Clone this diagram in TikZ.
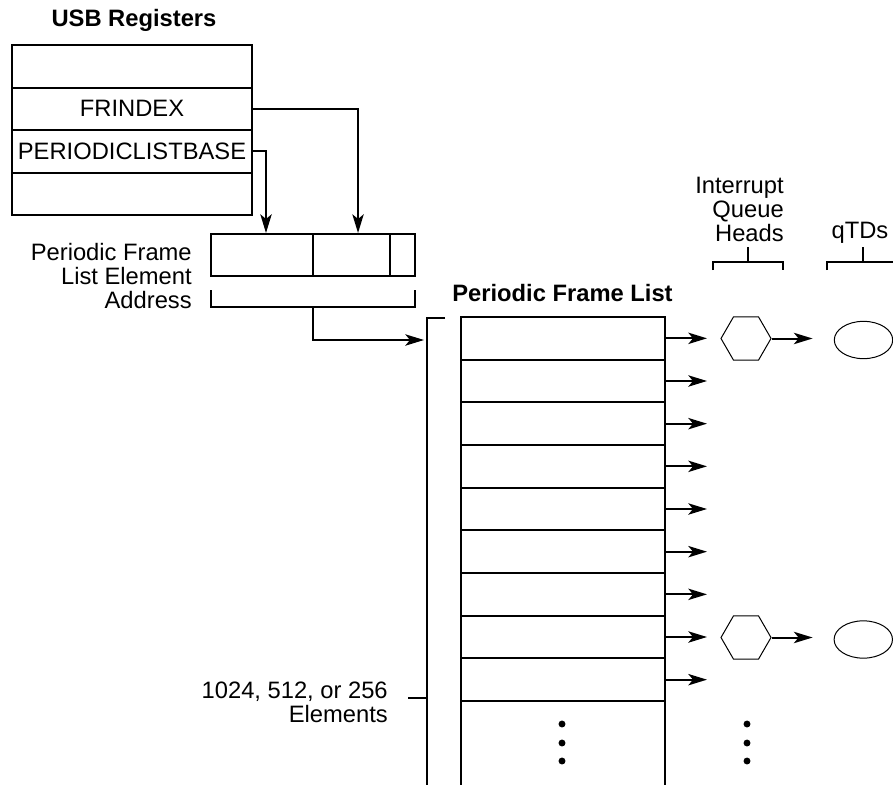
\documentclass[tikz,border=0pt]{standalone}
\usepackage{fontspec}
\setmainfont{Liberation Sans}
\usetikzlibrary{shapes.geometric,arrows.meta}
\begin{document}
\begin{tikzpicture}[x=0.75pt,y=-0.75pt,
  lbl/.style={font=\fontsize{17.8pt}{18pt}\selectfont,inner sep=0pt},
  boldlbl/.style={font=\fontsize{17.8pt}{18pt}\selectfont\bfseries,inner sep=0pt},
  heavy/.style={line width=1.5pt},
  regrow/.style={draw,line width=1.5pt,minimum width=180pt,minimum height=31.875pt,inner sep=0pt,font=\fontsize{17.8pt}{18pt}\selectfont},
  cell/.style={draw,line width=1.5pt,minimum height=31.5pt,inner sep=0pt},
  listrow/.style={draw,line width=1.5pt,minimum width=153pt,minimum height=32pt,inner sep=0pt},
  hexa/.style={draw,regular polygon,regular polygon sides=6,line width=0.75pt,minimum size=37.5pt,inner sep=0pt},
  qtd/.style={draw,ellipse,line width=0.75pt,minimum width=43.8pt,minimum height=28pt,inner sep=0pt},
  conn/.style={line width=1.5pt,-{Stealth[length=14pt,width=8.5pt,inset=3.5pt]}}
]
\useasboundingbox (0,0) rectangle (893,785);

% USB registers
\node[boldlbl] (title) at (134,20) {USB Registers};
\node[regrow] (reg1) at (132,66.25) {};
\node[regrow] (reg2) at (132,108.75) {FRINDEX};
\node[regrow] (reg3) at (132,151.25) {PERIODICLISTBASE};
\node[regrow] (reg4) at (132,193.75) {};

% address
\node[cell,minimum width=76.5pt] (c1) at (262,255) {};
\node[cell,minimum width=57.75pt] (c2) at (351.5,255) {};
\node[cell,minimum width=18.75pt] (c3) at (402.5,255) {};
\node[lbl,align=right,anchor=east] (pfle) at (192,276) {Periodic Frame\\List Element\\Address};

\draw[conn] (reg3.east) -| ([xshift=3pt]c1.north);
\draw[conn] (reg2.east) -| ([xshift=4.9pt]c2.north);

% bracket under address
\draw[heavy] (211,290) -- (211,307) -- (415,307) -- (415,290);
\coordinate (stem) at (313,307);
\coordinate (entry) at (424,340);
\draw[conn] (stem) |- (entry);

% tall bracket
\draw[heavy] (445,318) -- (427,318) -- (427,790);
\draw[heavy] (408,698) -- (427,698);
\node[lbl,align=right,anchor=east] (elem) at (388,702) {1024, 512, or 256\\Elements};

% periodic frame list
\node[boldlbl] (pfl) at (562.5,293) {Periodic Frame List};
\foreach \i in {1,...,9} {
  \node[listrow] (r\i) at (563,{317+42.667*(\i-0.5)}) {};
  \draw[conn] (r\i.east) -- ++(41,0);
}
\draw[heavy] (461,701) -- (461,790);
\draw[heavy] (665,701) -- (665,790);

% queue heads and qTDs
\node[hexa] (h1) at (746,338.5) {};
\node[hexa] (h2) at (746,637.5) {};
\node[qtd] (e1) at (863.5,340) {};
\node[qtd] (e2) at (863.3,639.5) {};
\draw[conn] (h1.east) -- ++(41,0);
\draw[conn] (h2.east) -- ++(41,0);

% top brackets and labels
\node[lbl,align=right,anchor=east] (iqh) at (784,209) {Interrupt\\Queue\\Heads};
\node[lbl] (qtds) at (860,233) {qTDs};
\draw[heavy] (713,270) -- (713,262) -- (783,262) -- (783,270);
\draw[heavy] (748,262) -- (748,247);
\draw[heavy] (827,270) -- (827,262) -- (900,262);
\draw[heavy] (863,262) -- (863,247);

% dots
\foreach \yy in {724,743,761} {
  \fill (562,\yy) circle[radius=2.6pt];
  \fill (747,\yy) circle[radius=2.6pt];
}
\end{tikzpicture}
\end{document}
